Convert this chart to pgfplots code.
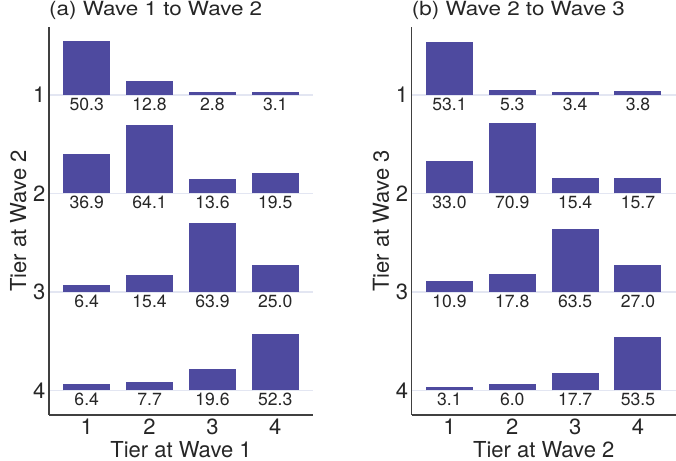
\documentclass[border=0pt]{standalone}
\usepackage{graphicx}
\usepackage{fontspec}
\setmainfont{TeX Gyre Heros}
\usepackage{pgfplots}
\usepackage{pgfplotstable}
\pgfplotsset{compat=1.18}

\definecolor{barc}{HTML}{4E4A9F}
\definecolor{gridc}{HTML}{E3E6F2}
\definecolor{axc}{HTML}{404040}

% column = tier at earlier wave, row = tier at later wave, pct = percent
\pgfplotstableread{
col row pct
1 1 50.3
2 1 12.8
3 1 2.8
4 1 3.1
1 2 36.9
2 2 64.1
3 2 13.6
4 2 19.5
1 3 6.4
2 3 15.4
3 3 63.9
4 3 25.0
1 4 6.4
2 4 7.7
3 4 19.6
4 4 52.3
}\waveA

\pgfplotstableread{
col row pct
1 1 53.1
2 1 5.3
3 1 3.4
4 1 3.8
1 2 33.0
2 2 70.9
3 2 15.4
4 2 15.7
1 3 10.9
2 3 17.8
3 3 63.5
4 3 27.0
1 4 3.1
2 4 6.0
3 4 17.7
4 4 53.5
}\waveB

\pgfkeys{/pgf/number format/assume math mode=true}

\pgfplotsset{
  tierpanel/.style={
    scale only axis,
    width=264bp, height=388bp,
    anchor=south west,
    xmin=0.4, xmax=4.6,
    ymin=0.31, ymax=4.25,
    y dir=reverse,
    xtick={1,2,3,4}, ytick={1,2,3,4},
    major tick length=0,
    axis x line*=bottom, axis y line*=left,
    axis line style={-, draw=axc, line width=1.1bp},
    ymajorgrids,
    major grid style={draw=gridc, line width=1.2bp},
    tick label style={font=\fontsize{22bp}{26bp}\selectfont, text=black!85},
    label style={font=\fontsize{22bp}{26bp}\selectfont, text=black!85},
    title style={at={(0,1)}, anchor=base west, yshift=5.5bp, inner sep=0pt,
      font=\fontsize{19.5bp}{22bp}\selectfont, text=black!85},
  },
  tierbars/.style={
    only marks, mark=none,
    error bars/.cd, y dir=minus, y explicit, error mark=none,
    error bar style={draw=barc, line width=47bp},
    /pgfplots/.cd,
    point meta=explicit,
    nodes near coords={\pgfmathprintnumber[fixed, fixed zerofill, precision=1]{\pgfplotspointmeta}},
    every node near coord/.append style={anchor=north, inner sep=2.5bp,
      font=\fontsize{17.6bp}{20bp}\selectfont, text=black!85},
  },
}

\begin{document}
\begin{tikzpicture}
\useasboundingbox (0,0) rectangle (676bp,461bp);

\begin{axis}[tierpanel, at={(49bp,46bp)},
  title={\scalebox{1.15}[1]{(a) Wave 1 to Wave 2}},
  xlabel={Tier at Wave 1}, ylabel={Tier at Wave 2}]
\addplot[tierbars] table[x=col, y=row, y error expr=\thisrow{pct}*0.01089, meta=pct] {\waveA};
\end{axis}

\begin{axis}[tierpanel, at={(411.7bp,46bp)},
  title={\scalebox{1.15}[1]{(b) Wave 2 to Wave 3}},
  xlabel={Tier at Wave 2}, ylabel={Tier at Wave 3}]
\addplot[tierbars] table[x=col, y=row, y error expr=\thisrow{pct}*0.01005, meta=pct] {\waveB};
\end{axis}
\end{tikzpicture}
\end{document}
